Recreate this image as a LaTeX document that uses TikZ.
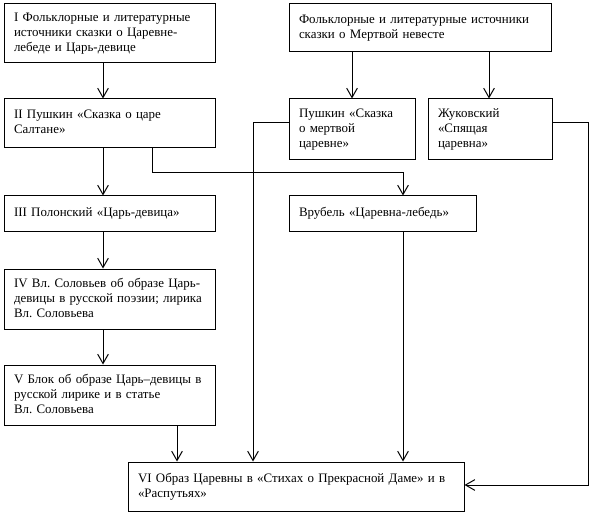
\documentclass[tikz,border=0pt]{standalone}
\usepackage{fontspec}
\setmainfont{Liberation Serif}
\usetikzlibrary{arrows.meta}
\newcommand{\lines}[1]{\begin{tabular}{@{}l@{}}#1\end{tabular}}
\begin{document}
\frenchspacing
\begin{tikzpicture}[x=0.75pt,y=-0.75pt,line width=0.75pt,
  box/.style={draw,rectangle,align=left,inner xsep=7.5pt,inner ysep=0pt,
    font=\fontsize{9.7pt}{11.25pt}\selectfont},
  arr/.style={-{Straight Barb[length=7pt,width=8pt]}}]
\useasboundingbox (0,0) rectangle (592,513);
\node[box,text width=143.25pt,minimum height=44.25pt] (I) at (109.5,33.5)
  {\lines{I Фольклорные и литературные\\источники сказки о Царевне-\\лебеде и Царь-девице}};
\node[box,text width=143.25pt,minimum height=36.75pt] (II) at (109.5,123.5)
  {\lines{II Пушкин «Сказка о царе\\Салтане»}};
\node[box,text width=143.25pt,minimum height=27pt] (III) at (109.5,214)
  {\lines{III Полонский «Царь-девица»}};
\node[box,text width=143.25pt,minimum height=45pt] (IV) at (109.5,299)
  {\lines{IV Вл. Соловьев об образе Царь-\\девицы в русской поэзии; лирика\\Вл. Соловьева}};
\node[box,text width=143.25pt,minimum height=45pt] (V) at (109.5,395)
  {\lines{V Блок об образе Царь–девицы в\\русской лирике и в статье\\Вл. Соловьева}};
\node[box,text width=237pt,minimum height=36.75pt] (VI) at (296,486.5)
  {\lines{VI Образ Царевны в «Стихах о Прекрасной Даме» и в\\«Распутьях»}};
\node[box,text width=181.5pt,minimum height=36pt] (F2) at (420,28)
  {\lines{Фольклорные и литературные источники\\сказки о Мертвой невесте}};
\node[box,text width=79.5pt,minimum height=45.75pt] (P2) at (352,129.5)
  {\lines{Пушкин «Сказка\\о мертвой\\царевне»}};
\node[box,text width=78pt,minimum height=45.75pt] (Zh) at (490,129.5)
  {\lines{Жуковский\\«Спящая\\царевна»}};
\node[box,text width=125.25pt,minimum height=27pt] (Vr) at (382.5,214)
  {\lines{Врубель «Царевна-лебедь»}};
\draw[arr] (I.south -| 103,0) -- (II.north -| 103,0);
\draw[arr] (II.south -| 103,0) -- (III.north -| 103,0);
\draw[arr] (III.south -| 103,0) -- (IV.north -| 103,0);
\draw[arr] (IV.south -| 103,0) -- (V.north -| 103,0);
\draw[arr] (V.south -| 177,0) -- (VI.north -| 177,0);
\draw[arr] (II.south -| 152,0) -- (152,173) -| (Vr.north -| 403,0);
\draw[arr] (Vr.south -| 403,0) -- (VI.north -| 403,0);
\draw[arr] (P2.west |- 0,123) -| (VI.north -| 253,0);
\draw[arr] (Zh.east |- 0,123) -| (588,485) -- (VI.east |- 0,485);
\draw[arr] (F2.south -| P2.north) -- (P2.north);
\draw[arr] (F2.south -| 489,0) -- (Zh.north -| 489,0);
\end{tikzpicture}
\end{document}
